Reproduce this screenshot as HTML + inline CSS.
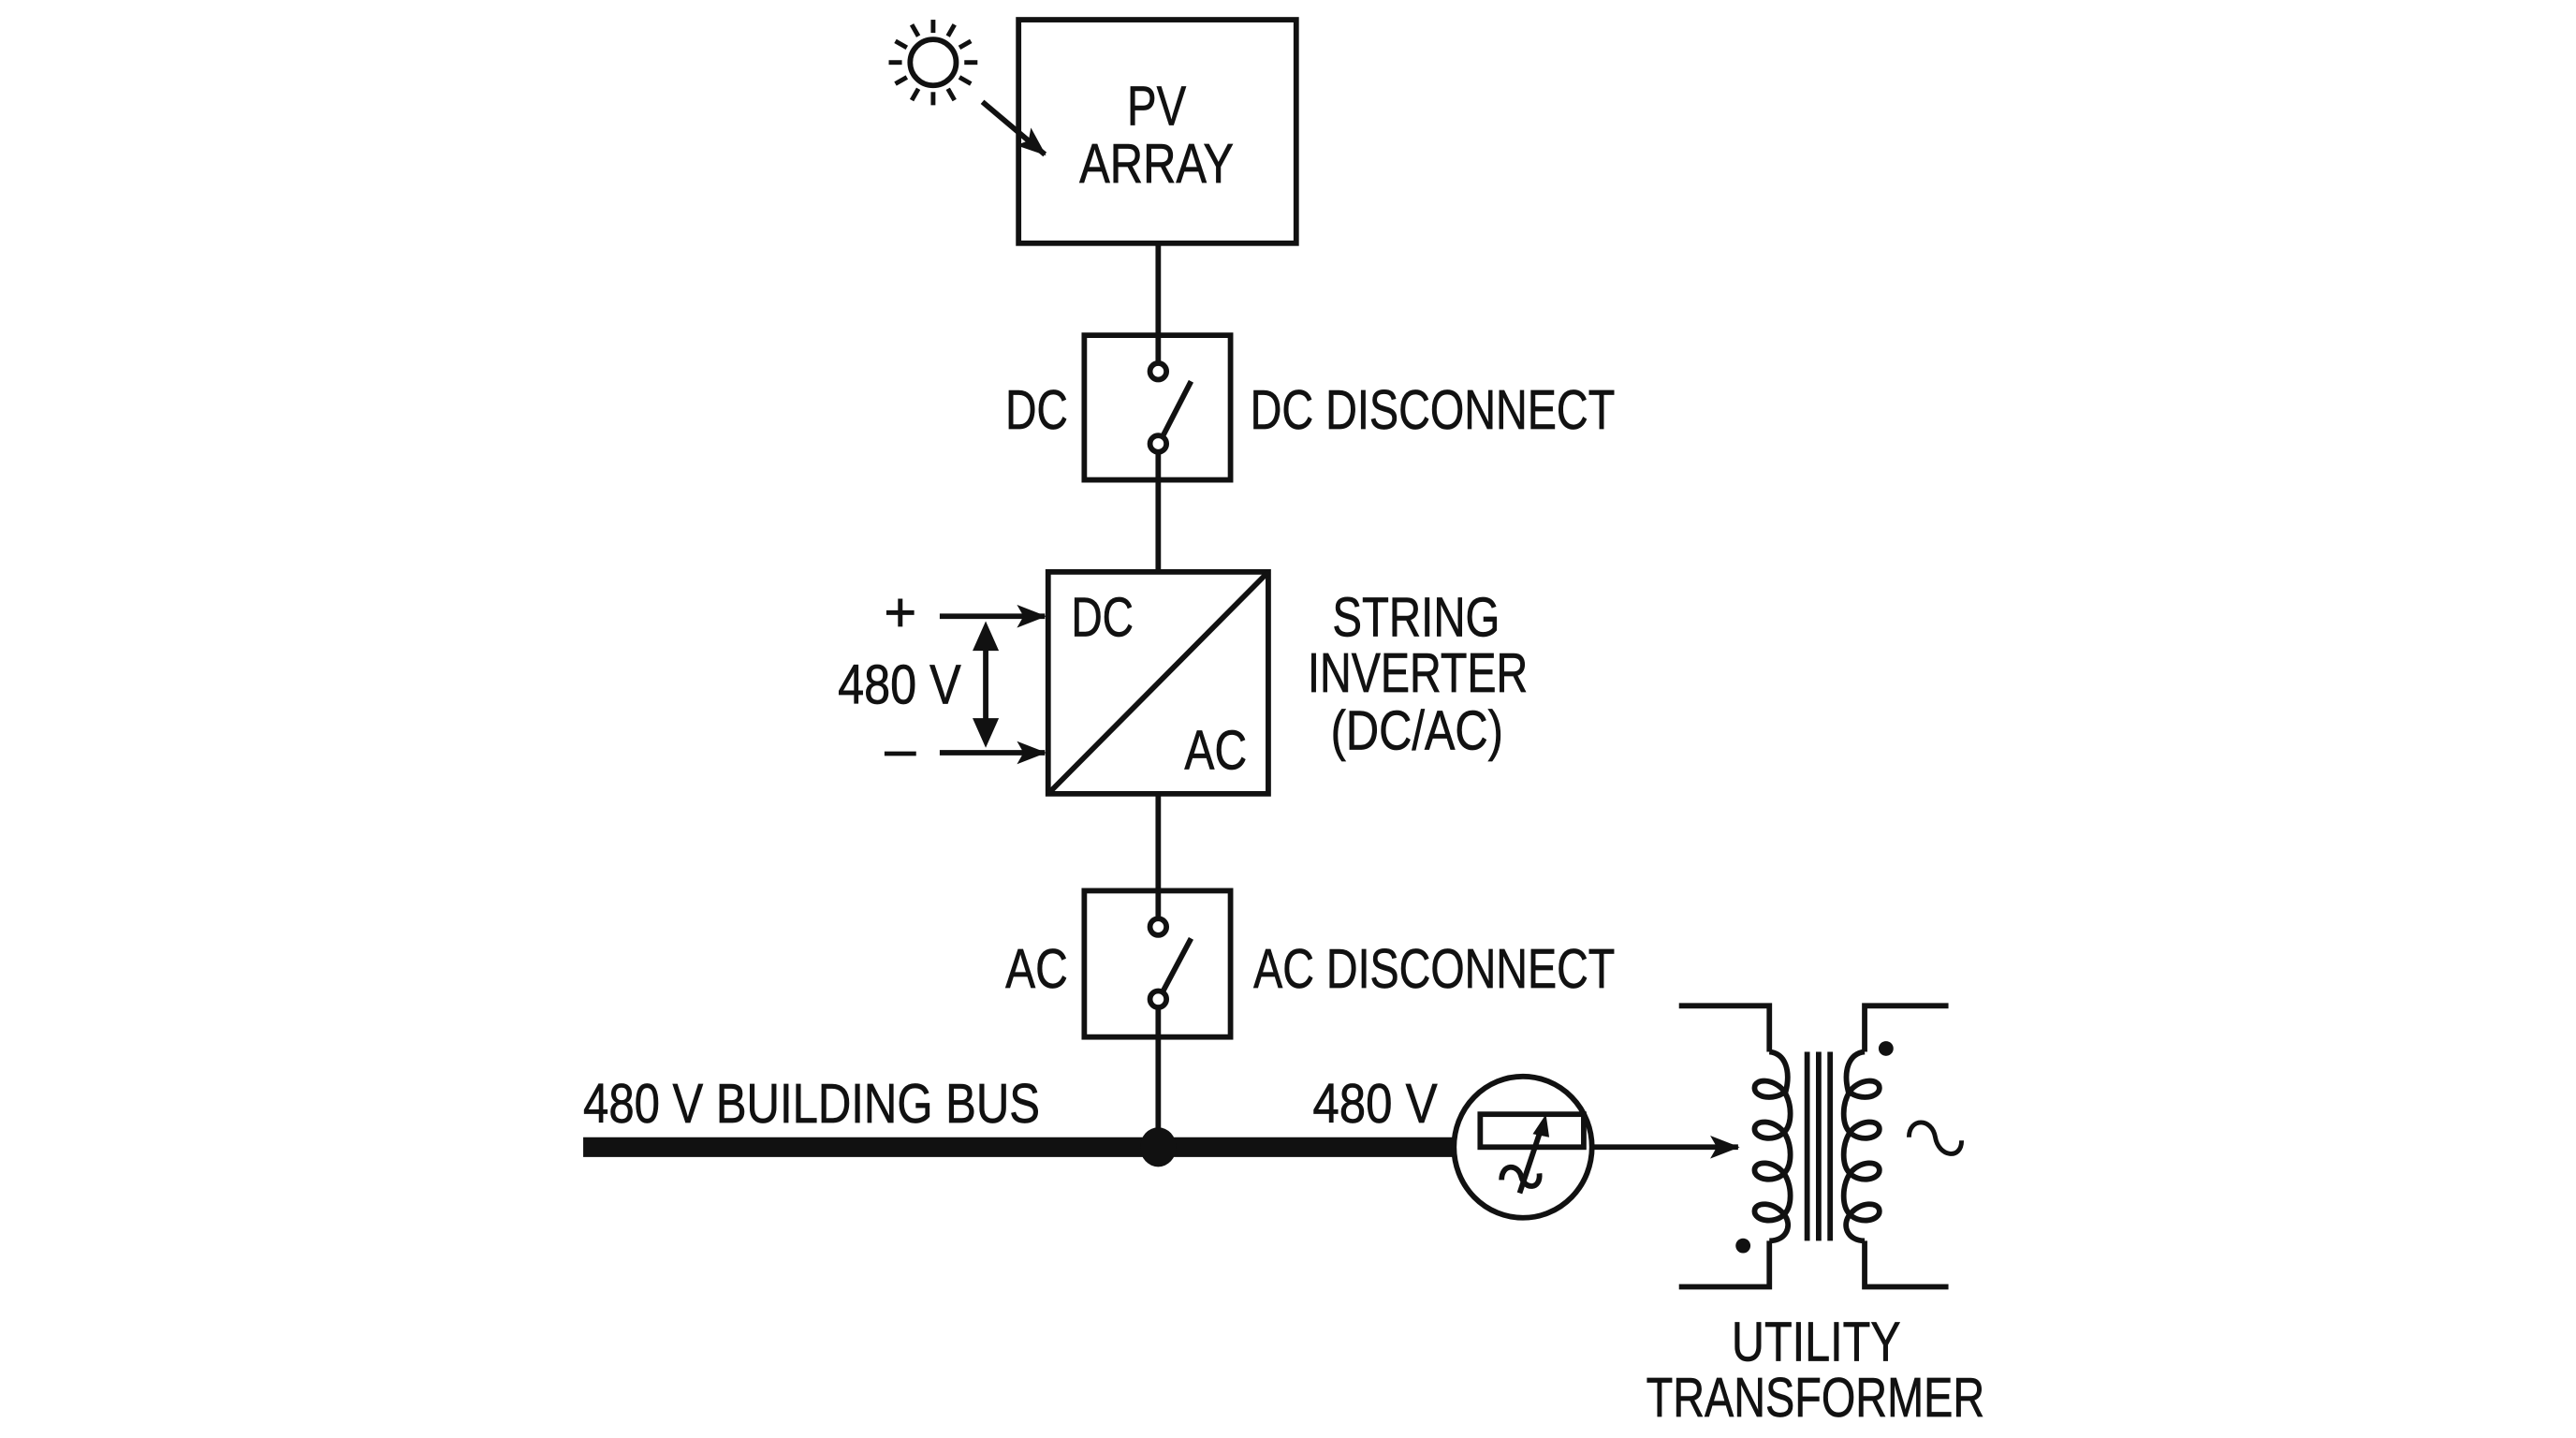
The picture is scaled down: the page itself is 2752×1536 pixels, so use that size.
<!DOCTYPE html>
<html><head><meta charset="utf-8"><style>
html,body{margin:0;padding:0;background:#fff;}
svg{display:block;}
text{font-family:"Liberation Sans Narrow","Liberation Sans",sans-serif;font-size:34px;fill:#111;stroke:#111;stroke-width:0.4px;}
</style></head><body>
<svg width="2752" height="1536" viewBox="0 0 1568 875" preserveAspectRatio="none" xmlns="http://www.w3.org/2000/svg">
<defs>
<marker id="ah2" markerWidth="18" markerHeight="14" refX="17" refY="7" orient="auto" markerUnits="userSpaceOnUse">
<path d="M0,0 L18,7 L0,14 L4,7 Z" fill="#111"/></marker>
</defs>
<g stroke="#111" stroke-width="3.3" fill="none">
<!-- sun -->
<circle cx="568" cy="38" r="14"/>
<g stroke-width="2.8">
<line x1="568" y1="12" x2="568" y2="20"/><line x1="568" y1="56" x2="568" y2="64"/>
<line x1="541" y1="38" x2="549" y2="38"/><line x1="587" y1="38" x2="595" y2="38"/>
<line x1="555" y1="15" x2="559" y2="22"/><line x1="581" y1="15" x2="577" y2="22"/>
<line x1="555" y1="61" x2="559" y2="54"/><line x1="581" y1="61" x2="577" y2="54"/>
<line x1="545" y1="25" x2="552" y2="29"/><line x1="591" y1="25" x2="584" y2="29"/>
<line x1="545" y1="51" x2="552" y2="47"/><line x1="591" y1="51" x2="584" y2="47"/>
</g>
<line x1="598" y1="62" x2="636" y2="94" marker-end="url(#ah2)"/>
<!-- PV box -->
<rect x="620" y="12" width="169" height="136"/>
<line x1="705" y1="148" x2="705" y2="221"/>
<!-- DC disconnect -->
<rect x="660" y="204" width="89" height="88"/>
<circle cx="705" cy="226" r="5"/>
<circle cx="705" cy="270" r="5"/>
<line x1="708" y1="265" x2="725" y2="232"/>
<line x1="705" y1="275" x2="705" y2="348"/>
<!-- inverter -->
<rect x="638" y="348" width="134" height="135"/>
<line x1="772" y1="348" x2="638" y2="483"/>
<line x1="572" y1="375" x2="636" y2="375" marker-end="url(#ah2)"/>
<line x1="572" y1="458" x2="636" y2="458" marker-end="url(#ah2)"/>
<line x1="600" y1="392" x2="600" y2="441"/>
<path d="M600,378 L592,396 L608,396 Z M600,455 L592,437 L608,437 Z" fill="#111" stroke="none"/>
<line x1="705" y1="483" x2="705" y2="559"/>
<!-- AC disconnect -->
<rect x="660" y="542" width="89" height="89"/>
<circle cx="705" cy="564" r="5"/>
<circle cx="705" cy="608" r="5"/>
<line x1="708" y1="603" x2="725" y2="571"/>
<line x1="705" y1="613" x2="705" y2="698"/>
<!-- bus -->
<line x1="355" y1="698" x2="885" y2="698" stroke-width="12"/>
<ellipse cx="705" cy="698" rx="11" ry="12" fill="#111" stroke="none"/>
<!-- meter -->
<ellipse cx="927" cy="698" rx="42" ry="43"/>
<rect x="901" y="678" width="63" height="20"/>
<path d="M914,718 C914,708 924,708 926,716 C928,724 938,724 937,714"/>
<line x1="925" y1="726" x2="939" y2="684"/>
<path d="M941,678 L933,690 L943,692 Z" fill="#111" stroke="none"/>
<line x1="970" y1="698" x2="1058" y2="698" marker-end="url(#ah2)"/>
<!-- transformer -->
<path d="M1022,612 H1077 V640"/>
<path d="M1077,755 V783 H1022"/>
<path d="M1135,640 V612 H1186"/>
<path d="M1135,755 V783 H1186"/>
<line x1="1100" y1="640" x2="1100" y2="755"/>
<line x1="1107" y1="640" x2="1107" y2="755"/>
<line x1="1114" y1="640" x2="1114" y2="755"/>
<path d="M1077,640 C1087,641 1090,652 1087,664 C1080,670 1068,668 1068,662 C1068,656 1080,656 1086,664
C1091,672 1091,684 1086,689 C1080,695 1068,693 1068,687 C1068,681 1080,681 1086,689
C1091,697 1091,709 1086,714 C1080,720 1068,718 1068,712 C1068,706 1080,706 1086,714
C1091,722 1091,734 1086,739 C1080,745 1068,743 1068,737 C1068,731 1080,731 1086,739
C1091,745 1088,755 1077,755"/>
<path d="M1135,640 C1125,641 1122,652 1125,664 C1132,670 1144,668 1144,662 C1144,656 1132,656 1126,664
C1121,672 1121,684 1126,689 C1132,695 1144,693 1144,687 C1144,681 1132,681 1126,689
C1121,697 1121,709 1126,714 C1132,720 1144,718 1144,712 C1144,706 1132,706 1126,714
C1121,722 1121,734 1126,739 C1132,745 1144,743 1144,737 C1144,731 1132,731 1126,739
C1121,745 1124,755 1135,755"/>
<path d="M1162,692 C1162,680 1176,680 1178,692 C1180,704 1194,706 1194,694" stroke-width="2.8"/>
</g>
<circle cx="1148" cy="638" r="4.5" fill="#111"/>
<circle cx="1061" cy="758" r="4.5" fill="#111"/>
<!-- text -->
<text x="704" y="76" text-anchor="middle" textLength="36" lengthAdjust="spacingAndGlyphs">PV</text>
<text x="704" y="111" text-anchor="middle" textLength="94" lengthAdjust="spacingAndGlyphs">ARRAY</text>
<text x="612" y="261" textLength="38" lengthAdjust="spacingAndGlyphs">DC</text>
<text x="761" y="261" textLength="222" lengthAdjust="spacingAndGlyphs">DC DISCONNECT</text>
<text x="652" y="387" textLength="38" lengthAdjust="spacingAndGlyphs">DC</text>
<text x="721" y="468" textLength="38" lengthAdjust="spacingAndGlyphs">AC</text>
<text x="811" y="387" textLength="102" lengthAdjust="spacingAndGlyphs">STRING</text>
<text x="796" y="421" textLength="134" lengthAdjust="spacingAndGlyphs">INVERTER</text>
<text x="810" y="456" textLength="105" lengthAdjust="spacingAndGlyphs">(DC/AC)</text>
<text x="548" y="384" text-anchor="middle">+</text>
<text x="548" y="467" text-anchor="middle">–</text>
<text x="510" y="428" textLength="75" lengthAdjust="spacingAndGlyphs">480 V</text>
<text x="612" y="601" textLength="38" lengthAdjust="spacingAndGlyphs">AC</text>
<text x="763" y="601" textLength="220" lengthAdjust="spacingAndGlyphs">AC DISCONNECT</text>
<text x="355" y="683" textLength="278" lengthAdjust="spacingAndGlyphs">480 V BUILDING BUS</text>
<text x="799" y="683" textLength="76" lengthAdjust="spacingAndGlyphs">480 V</text>
<text x="1054" y="828" textLength="103" lengthAdjust="spacingAndGlyphs">UTILITY</text>
<text x="1002" y="862" textLength="206" lengthAdjust="spacingAndGlyphs">TRANSFORMER</text>
</svg>
</body></html>
